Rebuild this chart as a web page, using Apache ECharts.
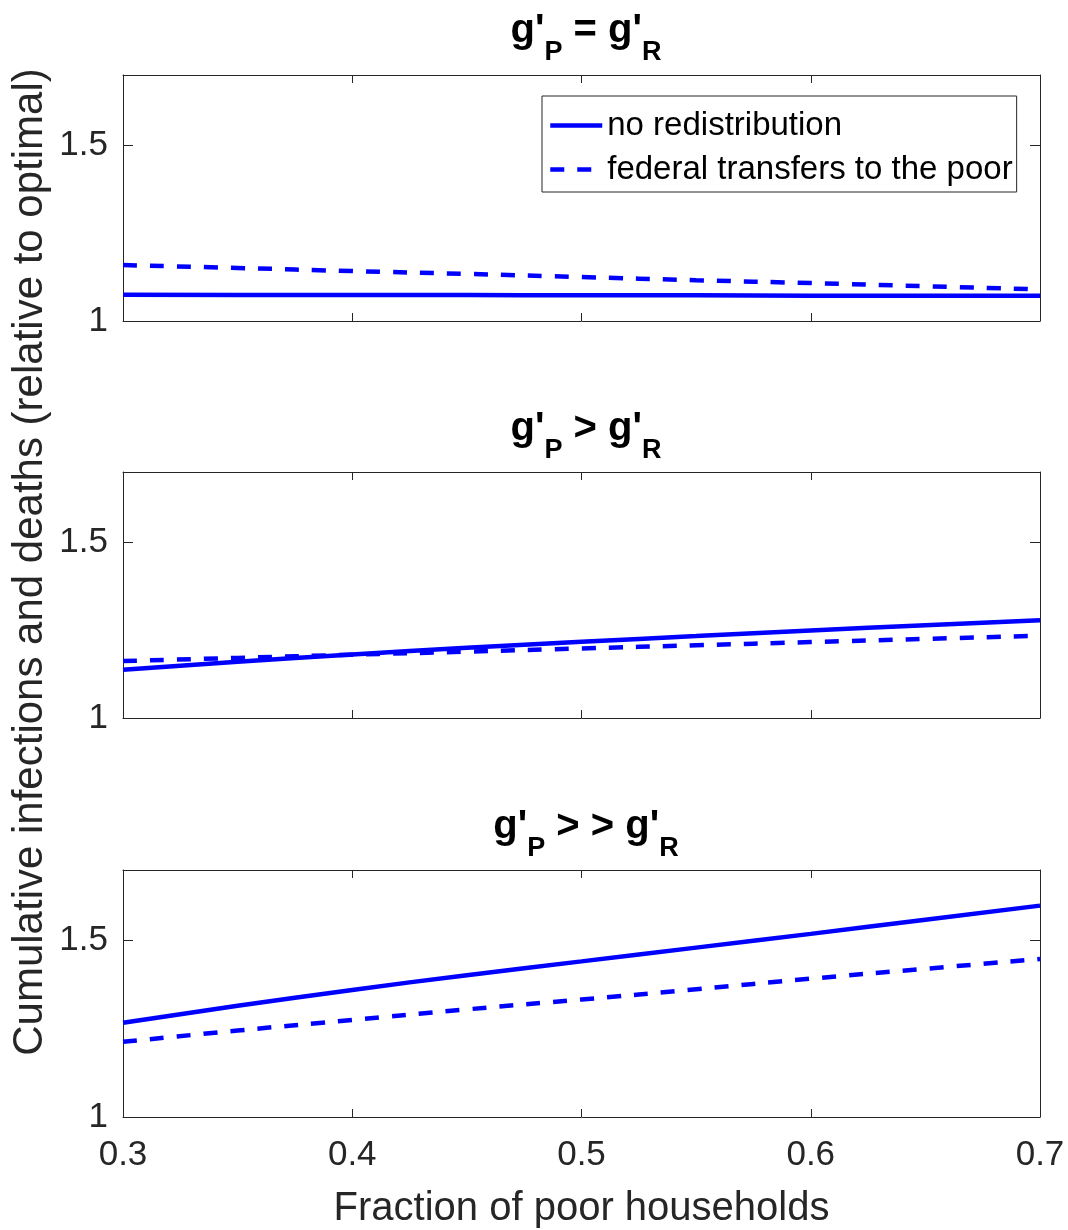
<!DOCTYPE html>
<html>
<head>
<meta charset="utf-8">
<script src="https://cdn.jsdelivr.net/npm/echarts@6/dist/echarts.min.js"></script>
<style>
  html, body { margin: 0; padding: 0; background: #fff; }
  #chart { width: 1068px; height: 1230px; }
</style>
</head>
<body>
<div id="chart"></div>
<script>
// fraction of poor households
var xs = [0.3, 0.35, 0.4, 0.45, 0.5, 0.55, 0.6, 0.65, 0.7]

// panel 1: g'P = g'R
var noRedist1 = [1.075, 1.074, 1.074, 1.074, 1.073, 1.073, 1.072, 1.072, 1.072]
var fedTransfer1 = [1.159, 1.151, 1.142, 1.134, 1.125, 1.116, 1.108, 1.099, 1.090]
// panel 2: g'P > g'R
var noRedist2 = [1.137, 1.160, 1.181, 1.200, 1.217, 1.233, 1.249, 1.264, 1.278]
var fedTransfer2 = [1.162, 1.171, 1.180, 1.189, 1.198, 1.207, 1.216, 1.225, 1.234]
// panel 3: g'P >> g'R
var noRedist3 = [1.267, 1.315, 1.360, 1.402, 1.441, 1.480, 1.519, 1.559, 1.599]
var fedTransfer3 = [1.213, 1.245, 1.275, 1.305, 1.333, 1.362, 1.392, 1.420, 1.448]

var panelTitles = [
  "{a|g'}{s|P}{a| = g'}{s|R}",
  "{a|g'}{s|P}{a| > g'}{s|R}",
  "{a|g'}{s|P}{a| > > g'}{s|R}",
]
var seriesNames = ['no redistribution', 'federal transfers to the poor']
var xName = 'Fraction of poor households'
var yName = 'Cumulative infections and deaths (relative to optimal)'

var FONT = 'Liberation Sans, Arial, Helvetica, sans-serif'
var AX = '#262626'
var BLUE = '#0000ff'

var grids = [
  { left: 123, right: 28, top: 75, height: 246 },
  { left: 123, right: 28, top: 472, height: 246 },
  { left: 123, right: 28, top: 870, height: 248 },
]
var titleTops = [6, 404, 802]

function pairs(arr) {
  return xs.map(function (x, i) { return [x, arr[i]] })
}

var xAxes = []
var yAxes = []
grids.forEach(function (g, i) {
  var last = i === grids.length - 1
  // bottom x axis
  xAxes.push({
    type: 'value', gridIndex: i, position: 'bottom',
    min: 0.3, max: 0.7, interval: 0.1,
    axisLine: { show: true, lineStyle: { color: AX, width: 1 } },
    axisTick: { show: true, inside: true, length: 8, lineStyle: { color: AX } },
    axisLabel: {
      show: last, color: AX, fontFamily: FONT, fontSize: 35, margin: 21,
      formatter: function (v) { return v.toFixed(1) },
    },
    splitLine: { show: false },
    name: last ? xName : '',
    nameLocation: 'middle', nameGap: 72,
    nameTextStyle: { color: AX, fontFamily: FONT, fontSize: 40 },
  })
  // top x axis (box + ticks)
  xAxes.push({
    type: 'value', gridIndex: i, position: 'top',
    min: 0.3, max: 0.7, interval: 0.1,
    axisLine: { show: true, lineStyle: { color: AX, width: 1 } },
    axisTick: { show: true, inside: true, length: 8, lineStyle: { color: AX } },
    axisLabel: { show: false },
    splitLine: { show: false },
  })
  yAxes.push({
    type: 'value', gridIndex: i, position: 'left',
    min: 1, max: 1.7, interval: 0.5,
    axisLine: { show: true, lineStyle: { color: AX, width: 1 } },
    axisTick: { show: true, inside: true, length: 10, lineStyle: { color: AX } },
    axisLabel: {
      color: AX, fontFamily: FONT, fontSize: 35, margin: 15, showMaxLabel: false,
      formatter: function (v) { return v === 1 ? '1' : String(v) },
    },
    splitLine: { show: false },
  })
  yAxes.push({
    type: 'value', gridIndex: i, position: 'right',
    min: 1, max: 1.7, interval: 0.5,
    axisLine: { show: true, lineStyle: { color: AX, width: 1 } },
    axisTick: { show: true, inside: true, length: 10, lineStyle: { color: AX } },
    axisLabel: { show: false, showMaxLabel: false },
    splitLine: { show: false },
  })
})

var panelData = [
  [noRedist1, fedTransfer1],
  [noRedist2, fedTransfer2],
  [noRedist3, fedTransfer3],
]

var series = []
panelData.forEach(function (pd, i) {
  series.push({
    name: seriesNames[0], type: 'line', xAxisIndex: i * 2, yAxisIndex: i * 2,
    data: pairs(pd[0]), symbol: 'none', smooth: true,
    lineStyle: { color: BLUE, width: 4.5, type: 'solid' },
    itemStyle: { color: BLUE },
  })
  series.push({
    name: seriesNames[1], type: 'line', xAxisIndex: i * 2, yAxisIndex: i * 2,
    data: pairs(pd[1]), symbol: 'none', smooth: true,
    lineStyle: { color: BLUE, width: 4.5, type: [14, 13] },
    itemStyle: { color: BLUE },
  })
})

var titles = panelTitles.map(function (t, i) {
  return {
    text: t, left: 581, top: titleTops[i], textAlign: 'center',
    textStyle: {
      rich: {
        a: { fontFamily: FONT, fontSize: 40, fontWeight: 'bold', color: '#000', verticalAlign: 'top' },
        s: { fontFamily: FONT, fontSize: 27, fontWeight: 'bold', color: '#000', padding: [28, 0, 0, 0], verticalAlign: 'bottom' },
      },
    },
  }
})

var chart = echarts.init(document.getElementById('chart'), null, { renderer: 'canvas' })
chart.setOption({
  animation: false,
  backgroundColor: '#fff',
  title: titles,
  grid: grids,
  xAxis: xAxes,
  yAxis: yAxes,
  legend: {
    left: 542, top: 96, orient: 'vertical',
    data: seriesNames,
    itemWidth: 52, itemHeight: 14, itemGap: 11,
    padding: [13, 4, 6, 6],
    borderColor: AX, borderWidth: 1, backgroundColor: '#fff',
    itemStyle: { opacity: 0 },
    lineStyle: { width: 4.5 },
    textStyle: { color: '#000', fontFamily: FONT, fontSize: 33, lineHeight: 33 },
  },
  graphic: [{
    type: 'text', x: 30, y: 562, rotation: Math.PI / 2,
    style: {
      text: yName, fill: AX, font: '42px ' + FONT,
      align: 'center', verticalAlign: 'middle',
    },
  }],
  series: series,
})
</script>
</body>
</html>
